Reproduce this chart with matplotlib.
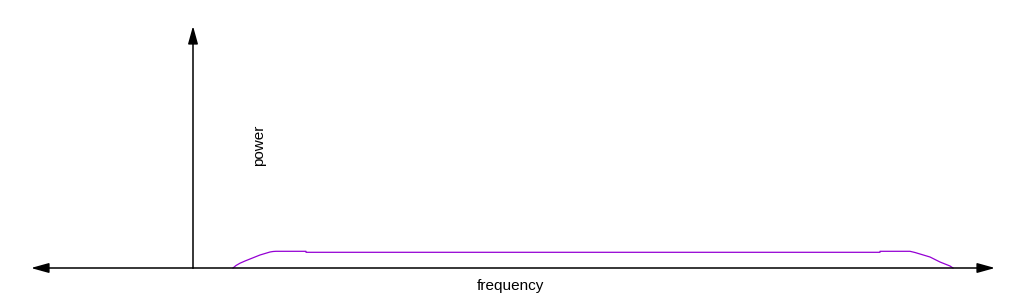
import matplotlib.pyplot as plt

# spectrum shape (frequency, power) in diagram units
freq = [40, 43, 47, 52, 57, 62, 67, 72, 77, 80, 83, 113, 113, 687, 687, 717, 722, 727, 732, 737, 742, 747, 752, 757, 760]
power = [0, 2.5, 4.8, 7, 9, 11, 13, 14.5, 16, 16.5, 16.7, 16.7, 15.7, 15.7, 16.7, 16.7, 15.5, 14, 12.5, 11, 8.5, 6, 4, 2, 0]

x_label = 'frequency'
y_label = 'power'

fig = plt.figure(figsize=(10.24, 3), dpi=100)
ax = fig.add_axes([0, 0, 1, 1])
ax.set_xlim(-193, 831)
ax.set_ylim(-32, 268)
ax.axis('off')

arrow = dict(arrowstyle='-|>,head_length=0.9,head_width=0.25', color='black',
             lw=1.1, shrinkA=0, shrinkB=0, mutation_scale=12)

# frequency axis, arrows both ways
ax.annotate('', xy=(802, 0), xytext=(0, 0), arrowprops=arrow)
ax.annotate('', xy=(-162, 0), xytext=(0, 0), arrowprops=arrow)
# power axis
ax.annotate('', xy=(0, 242), xytext=(0, 0), arrowprops=arrow)

ax.plot(freq, power, color='#9400d3', lw=0.9)

ax.text(317, -18, x_label, ha='center', va='center', fontsize=11,
        family='Liberation Sans')
ax.text(66, 123, y_label, ha='center', va='center', rotation=90,
        fontsize=11, family='Liberation Sans')

fig.savefig('out.png', dpi=100)
